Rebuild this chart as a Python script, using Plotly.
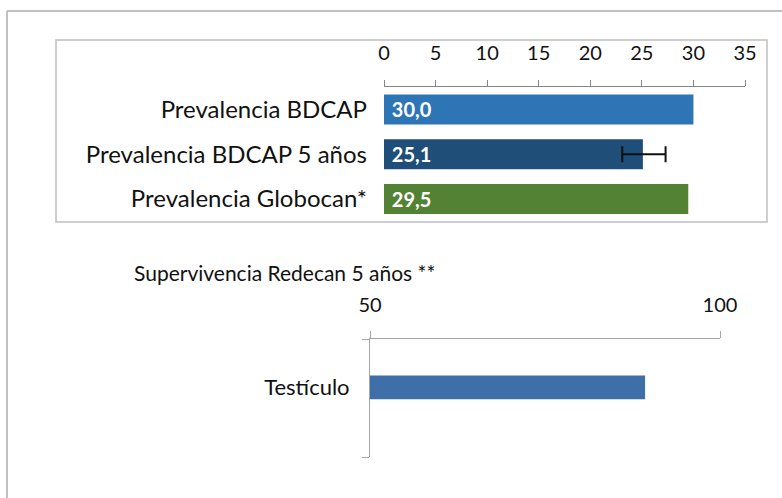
import plotly.graph_objects as go

# Prevalence chart data
prev_labels = ["Prevalencia BDCAP", "Prevalencia BDCAP 5 años", "Prevalencia Globocan*"]
prev_values = [30.0, 25.1, 29.5]
prev_colors = ["#2E75B6", "#1F4E79", "#548235"]
ci_plus = 2.2    # upper CI distance for the 5-year BDCAP estimate
ci_minus = 2.0   # lower CI distance

# Survival chart data
surv_labels = ["Testículo"]
surv_values = [89.3]
surv_title = "Supervivencia Redecan 5 años **"

W, H = 782, 498
FONT = "Lato"
GRAY = "#A6A6A6"


def px(x):
    return x / W


def py(y):
    return 1 - y / H


fig = go.Figure()

fig.add_trace(go.Bar(
    x=prev_values, y=prev_labels, orientation="h",
    marker=dict(color=prev_colors, line=dict(width=0)),
    texttemplate="\u00a0%{x:.1f}", textposition="inside", insidetextanchor="start",
    textfont=dict(family=FONT, size=20, color="white", weight="bold"),
    cliponaxis=False, xaxis="x", yaxis="y", showlegend=False,
))

# confidence interval on the 5-year prevalence bar
fig.add_trace(go.Scatter(
    x=[prev_values[1]], y=[prev_labels[1]], mode="markers",
    marker=dict(size=1, color="rgba(0,0,0,0)"),
    error_x=dict(type="data", symmetric=False, array=[ci_plus], arrayminus=[ci_minus],
                 color="#111111", thickness=2, width=8),
    xaxis="x", yaxis="y", showlegend=False, hoverinfo="skip",
))

surv_pos = list(range(len(surv_labels)))
fig.add_trace(go.Bar(
    x=surv_values, y=surv_pos, orientation="h", width=0.2,
    base=0, marker=dict(color="#3F6FA8", line=dict(width=0)),
    xaxis="x2", yaxis="y2", showlegend=False,
))

fig.update_layout(
    template="none",
    width=W, height=H,
    margin=dict(l=0, r=0, t=0, b=0, autoexpand=False),
    paper_bgcolor="white", plot_bgcolor="rgba(0,0,0,0)",
    separators=",.",
    bargap=0.33,
    font=dict(family=FONT, color="#111111"),
    xaxis=dict(
        domain=[px(384), px(745)], anchor="y", side="top", automargin=False,
        range=[0, 35], dtick=5, tick0=0,
        showline=True, linecolor="#868686", linewidth=1,
        ticks="outside", ticklen=6, tickcolor="#868686",
        showgrid=False, zeroline=False,
        tickfont=dict(size=20, family=FONT, color="#111111"),
        ticklabelstandoff=12,
    ),
    yaxis=dict(
        domain=[py(221.5), py(87)], anchor="x", automargin=False,
        type="category", autorange="reversed",
        showline=False, ticks="", showgrid=False,
        tickfont=dict(size=24, family=FONT, color="#111111"),
        ticklabelstandoff=16,
    ),
    xaxis2=dict(
        domain=[px(370), px(720)], anchor="y2", side="top", automargin=False,
        range=[50, 100], tickvals=[50, 100],
        showline=True, linecolor=GRAY, linewidth=1,
        ticks="outside", ticklen=7, tickcolor=GRAY,
        showgrid=True, gridcolor=GRAY, gridwidth=1, zeroline=False,
        tickfont=dict(size=20, family=FONT, color="#111111"),
        ticklabelstandoff=11,
    ),
    yaxis2=dict(
        domain=[py(457), py(339)], anchor="x2", automargin=False,
        range=[0.59, -0.41],
        tickmode="array", tickvals=surv_pos, ticktext=surv_labels,
        showline=True, linecolor=GRAY, linewidth=1,
        ticks="", showgrid=False, zeroline=False,
        minor=dict(tickmode="array", tickvals=[-0.41, 0.59], ticks="outside",
                   ticklen=7, tickcolor=GRAY, showgrid=False),
        tickfont=dict(size=22, family=FONT, color="#111111"),
        ticklabelstandoff=15,
    ),
    annotations=[dict(
        text=surv_title, xref="paper", yref="paper",
        x=px(132), y=py(272), xanchor="left", yanchor="middle",
        showarrow=False, font=dict(size=21, family=FONT, color="#111111"),
    )],
    shapes=[
        # outer chart frame (left and top edges)
        dict(type="line", xref="paper", yref="paper", x0=px(7), x1=px(7), y0=0, y1=py(11),
             line=dict(color="#C0C0C0", width=2)),
        dict(type="line", xref="paper", yref="paper", x0=px(7), x1=1, y0=py(11), y1=py(11),
             line=dict(color="#C0C0C0", width=2)),
        # frame around the prevalence chart
        dict(type="rect", xref="paper", yref="paper", x0=px(56), x1=px(767),
             y0=py(222), y1=py(40), line=dict(color="#BFBFBF", width=1.5)),
    ],
)

fig.write_html("out.html")
